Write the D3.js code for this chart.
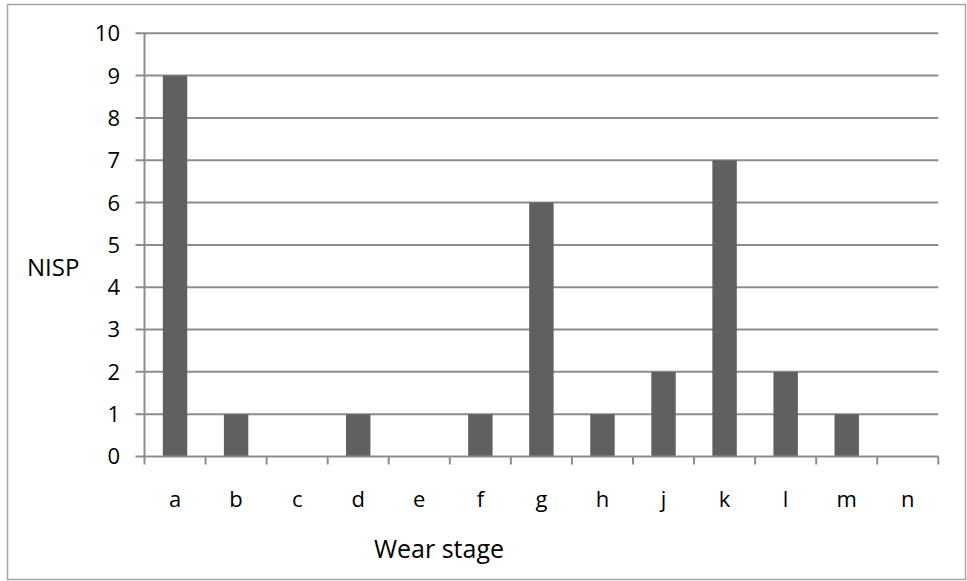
<!DOCTYPE html>
<html>
<head>
    <meta charset="utf-8">
    <title>Wear stage NISP</title>
    <script src="https://cdn.jsdelivr.net/npm/d3@7"></script>
    <style>
        body { margin: 0; background: #fff; }
        text { font-family: "Open Sans", sans-serif; fill: #000; }
    </style>
</head>
<body>
<script>
    // data
    var stages = ["a", "b", "c", "d", "e", "f", "g", "h", "j", "k", "l", "m", "n"];
    var nisp = [9, 1, 0, 1, 0, 1, 6, 1, 2, 7, 2, 1, 0];
    var yTicks = [0, 1, 2, 3, 4, 5, 6, 7, 8, 9, 10];

    var w = 967, h = 581;
    var plotL = 144.5, plotR = 938.3, plotT = 33.3, plotB = 456.5;

    var svg = d3.select("body").append("svg")
        .attr("width", w)
        .attr("height", h);

    // outer frame
    svg.append("rect")
        .attr("x", 7.5).attr("y", 4.5)
        .attr("width", 958).attr("height", 575)
        .attr("fill", "none")
        .attr("stroke", "#a6a6a6")
        .attr("stroke-width", 1.5);

    var x = d3.scaleBand().domain(stages).range([plotL, plotR]).paddingInner(0.6).paddingOuter(0.3);
    var xEdge = d3.scaleLinear().domain([0, stages.length]).range([plotL, plotR]);
    var y = d3.scaleLinear().domain([0, 10]).range([plotB, plotT]);

    // gridlines
    svg.append("g").selectAll("line")
        .data(yTicks.filter(function(d) { return d > 0; }))
        .enter().append("line")
        .attr("x1", plotL - 9).attr("x2", plotR)
        .attr("y1", function(d) { return y(d); })
        .attr("y2", function(d) { return y(d); })
        .attr("stroke", "#8c8c8c")
        .attr("stroke-width", 2);

    // bars
    svg.append("g").selectAll("rect")
        .data(nisp)
        .enter().append("rect")
        .attr("x", function(d, i) { return x(stages[i]); })
        .attr("width", x.bandwidth())
        .attr("y", function(d) { return y(d); })
        .attr("height", function(d) { return y(0) - y(d); })
        .attr("fill", "#606060");

    // y axis line + tick labels
    svg.append("line")
        .attr("x1", plotL).attr("x2", plotL)
        .attr("y1", plotT).attr("y2", plotB + 8)
        .attr("stroke", "#8c8c8c").attr("stroke-width", 2);

    svg.append("g").selectAll("text")
        .data(yTicks)
        .enter().append("text")
        .attr("x", 120)
        .attr("y", function(d) { return y(d); })
        .attr("dy", "0.36em")
        .attr("text-anchor", "end")
        .attr("font-size", 22)
        .text(function(d) { return d; });

    // x axis line + ticks
    svg.append("line")
        .attr("x1", plotL - 9).attr("x2", plotR)
        .attr("y1", plotB).attr("y2", plotB)
        .attr("stroke", "#8c8c8c").attr("stroke-width", 2);

    svg.append("g").selectAll("line")
        .data(d3.range(1, stages.length + 1))
        .enter().append("line")
        .attr("x1", function(d) { return xEdge(d); })
        .attr("x2", function(d) { return xEdge(d); })
        .attr("y1", plotB).attr("y2", plotB + 8)
        .attr("stroke", "#8c8c8c").attr("stroke-width", 2);

    svg.append("g").selectAll("text")
        .data(stages)
        .enter().append("text")
        .attr("x", function(d) { return x(d) + x.bandwidth() / 2; })
        .attr("y", 507)
        .attr("text-anchor", "middle")
        .attr("font-size", 22)
        .text(function(d) { return d; });

    // axis titles
    svg.append("text")
        .attr("x", 439).attr("y", 558)
        .attr("text-anchor", "middle")
        .attr("font-size", 25)
        .text("Wear stage");

    svg.append("text")
        .attr("x", 27).attr("y", 276)
        .attr("font-size", 24)
        .text("NISP");
</script>
</body>
</html>
